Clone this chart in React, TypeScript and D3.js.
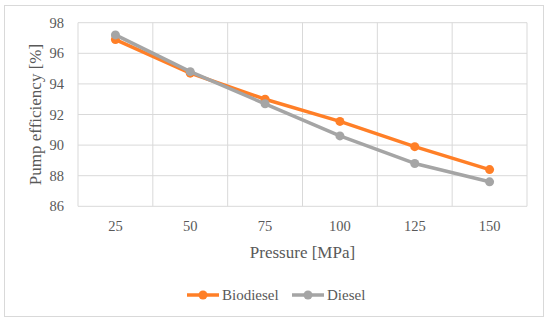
import React from "react";
import * as d3 from "d3";

const pressures = ["25", "50", "75", "100", "125", "150"];
const biodiesel = [96.9, 94.7, 93.0, 91.55, 89.9, 88.4];
const diesel = [97.2, 94.8, 92.7, 90.6, 88.8, 87.6];
const yTicks = [86, 88, 90, 92, 94, 96, 98];

const width = 550,
  height = 323;
const margin = { top: 22.7, right: 23, bottom: 116.7, left: 78 };
const font = "'Palatino Linotype', 'Book Antiqua', Palatino, 'Liberation Serif', serif";
const textColor = "#595959";
const gridColor = "#d9d9d9";

const series = [
  { name: "Biodiesel", values: biodiesel, color: "#ff7f27" },
  { name: "Diesel", values: diesel, color: "#a5a5a5" }
];

export default function App() {
  const x = d3
    .scaleBand()
    .domain(pressures)
    .range([margin.left, width - margin.right]);
  const y = d3
    .scaleLinear()
    .domain([86, 98])
    .range([height - margin.bottom, margin.top]);

  const line = d3
    .line<number>()
    .x((d, i) => x(pressures[i])! + x.bandwidth() / 2)
    .y(d => y(d));

  // band edges for the vertical grid
  const edges = pressures.map(p => x(p)!).concat([x.range()[1]]);

  return (
    <svg
      width={width}
      height={height}
      style={{ position: "absolute", left: 0, top: 0, background: "#fff" }}
      fontFamily={font}
    >
      <rect x={4.5} y={5.5} width={539} height={311} fill="#fff" stroke={gridColor} />

      {yTicks.map(t => (
        <g key={t}>
          <line x1={margin.left} x2={width - margin.right} y1={y(t)} y2={y(t)} stroke={gridColor} strokeWidth={1} />
          <text x={margin.left - 14} y={y(t)} dy="0.35em" textAnchor="end" fontSize={14.5} fill={textColor}>
            {t}
          </text>
        </g>
      ))}
      {edges.map((e, i) => (
        <line key={i} x1={e} x2={e} y1={y(98)} y2={y(86)} stroke={gridColor} strokeWidth={1} />
      ))}
      {pressures.map(p => (
        <text
          key={p}
          x={x(p)! + x.bandwidth() / 2}
          y={y(86) + 20}
          dy="0.35em"
          textAnchor="middle"
          fontSize={14.5}
          fill={textColor}
        >
          {p}
        </text>
      ))}

      {series.map(s => (
        <g key={s.name}>
          <path d={line(s.values)!} fill="none" stroke={s.color} strokeWidth={3.5} strokeLinejoin="round" />
          {s.values.map((v, i) => (
            <circle key={i} cx={x(pressures[i])! + x.bandwidth() / 2} cy={y(v)} r={4.5} fill={s.color} />
          ))}
        </g>
      ))}

      <text x={(margin.left + width - margin.right) / 2} y={252} dy="0.35em" textAnchor="middle" fontSize={17} fill={textColor}>
        Pressure [MPa]
      </text>
      <text
        transform={`translate(35,${(y(98) + y(86)) / 2}) rotate(-90)`}
        dy="0.35em"
        textAnchor="middle"
        fontSize={17}
        fill={textColor}
      >
        Pump efficiency [%]
      </text>

      {series.map((s, i) => {
        const lx = i === 0 ? 187 : 292;
        return (
          <g key={s.name}>
            <line x1={lx} x2={lx + 32} y1={295} y2={295} stroke={s.color} strokeWidth={3.5} />
            <circle cx={lx + 16} cy={295} r={4.5} fill={s.color} />
            <text x={lx + 35} y={295} dy="0.35em" fontSize={15} fill={textColor}>
              {s.name}
            </text>
          </g>
        );
      })}
    </svg>
  );
}
